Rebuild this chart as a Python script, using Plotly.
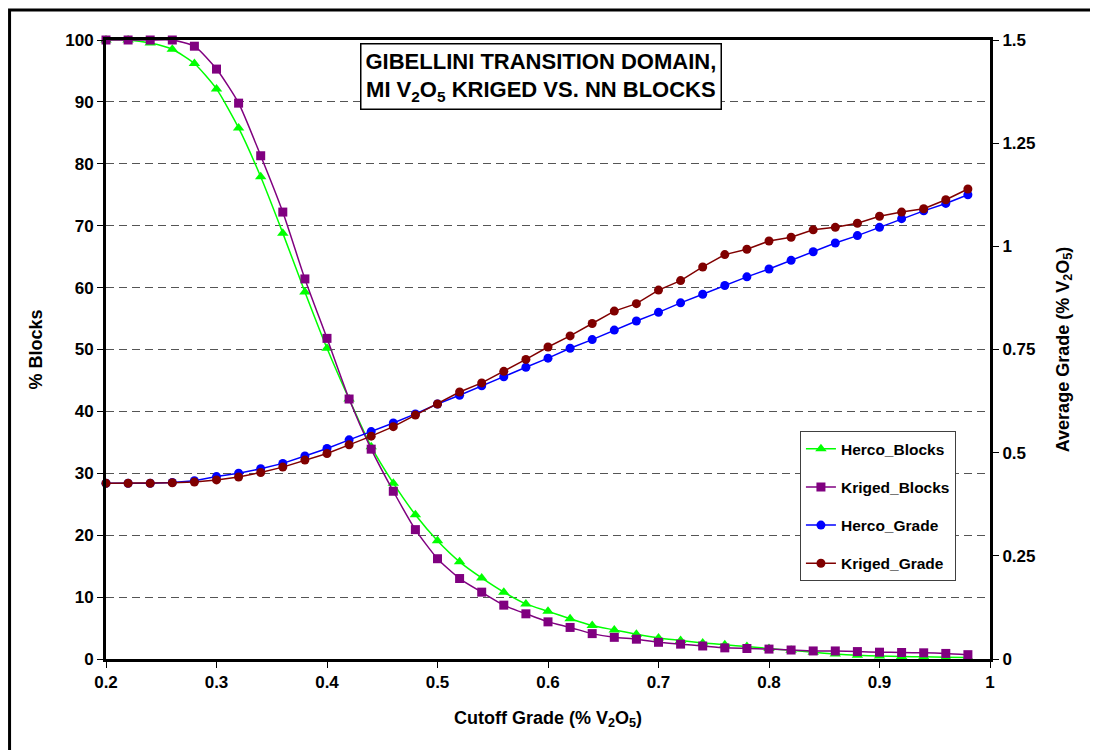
import plotly.graph_objects as go

cutoff = [round(0.20 + 0.02 * i, 2) for i in range(40)]

herco_blocks = [100, 100, 99.5, 98.5, 96.2, 92.1, 85.8, 77.9, 68.8, 59.3,
                50.2, 42.0, 34.3, 28.4, 23.3, 19.1, 15.7, 13.1, 10.8, 8.9,
                7.7, 6.5, 5.4, 4.7, 4.0, 3.4, 3.0, 2.6, 2.3, 2.0,
                1.7, 1.4, 1.1, 0.8, 0.6, 0.5, 0.4, 0.35, 0.3, 0.25]

kriged_blocks = [100, 100, 100, 100, 99.0, 95.3, 89.8, 81.3, 72.2, 61.4,
                 51.8, 42.0, 33.9, 27.1, 20.9, 16.2, 13.0, 10.8, 8.7, 7.3,
                 6.0, 5.1, 4.1, 3.5, 3.2, 2.7, 2.4, 2.1, 1.8, 1.7,
                 1.6, 1.45, 1.3, 1.3, 1.2, 1.1, 1.05, 1.0, 0.9, 0.7]

herco_grade = [0.426, 0.426, 0.426, 0.428, 0.432, 0.442, 0.450, 0.461, 0.474, 0.492,
               0.510, 0.531, 0.551, 0.572, 0.594, 0.618, 0.639, 0.662, 0.684, 0.707,
               0.729, 0.753, 0.774, 0.797, 0.819, 0.840, 0.863, 0.884, 0.905, 0.926,
               0.945, 0.966, 0.987, 1.008, 1.026, 1.046, 1.067, 1.086, 1.104, 1.125]

kriged_grade = [0.426, 0.426, 0.426, 0.427, 0.429, 0.434, 0.441, 0.452, 0.465, 0.482,
                0.498, 0.519, 0.540, 0.563, 0.591, 0.618, 0.647, 0.669, 0.697, 0.726,
                0.756, 0.783, 0.813, 0.843, 0.861, 0.894, 0.917, 0.950, 0.980, 0.993,
                1.013, 1.022, 1.040, 1.046, 1.056, 1.073, 1.083, 1.091, 1.113, 1.139]

x_ticks = [0.2, 0.3, 0.4, 0.5, 0.6, 0.7, 0.8, 0.9, 1.0]
x_tick_labels = ["0.2", "0.3", "0.4", "0.5", "0.6", "0.7", "0.8", "0.9", "1"]
y_ticks = [0, 10, 20, 30, 40, 50, 60, 70, 80, 90, 100]
y_tick_labels = ["0", "10", "20", "30", "40", "50", "60", "70", "80", "90", "100"]
y2_ticks = [0, 0.25, 0.5, 0.75, 1.0, 1.25, 1.5]
y2_tick_labels = ["0", "0.25", "0.5", "0.75", "1", "1.25", "1.5"]

FONT = "Liberation Sans, Arial, sans-serif"


def bold(size):
    return dict(family=FONT, size=size, color="black", weight="bold")


fig = go.Figure()
fig.add_trace(go.Scatter(
    x=cutoff, y=herco_blocks, name="Herco_Blocks", mode="lines+markers",
    line=dict(color="#00FF00", width=1.5, shape="spline", smoothing=0.6),
    marker=dict(symbol="triangle-up", size=10, color="#00FF00"),
    cliponaxis=False, legendgroup="a"))
fig.add_trace(go.Scatter(
    x=cutoff, y=kriged_blocks, name="Kriged_Blocks", mode="lines+markers",
    line=dict(color="#800080", width=1.5, shape="spline", smoothing=0.6),
    marker=dict(symbol="square", size=9, color="#800080"),
    cliponaxis=False, legendgroup="b"))
fig.add_trace(go.Scatter(
    x=cutoff, y=herco_grade, name="Herco_Grade", mode="lines+markers",
    line=dict(color="#0000FF", width=1.5),
    marker=dict(symbol="circle", size=9, color="#0000FF"),
    yaxis="y2", cliponaxis=False, legendgroup="c"))
fig.add_trace(go.Scatter(
    x=cutoff, y=kriged_grade, name="Kriged_Grade", mode="lines+markers",
    line=dict(color="#800000", width=1.5),
    marker=dict(symbol="circle", size=9, color="#800000"),
    yaxis="y2", cliponaxis=False, legendgroup="d"))

fig.update_layout(
    width=1090, height=742,
    margin=dict(l=98, r=108, t=32, b=91),
    paper_bgcolor="white", plot_bgcolor="white",
    font=bold(17),
    showlegend=True,
    legend=dict(
        x=0.785, y=0.368, xanchor="left", yanchor="top",
        bgcolor="white", bordercolor="#404040", borderwidth=1,
        font=bold(15.5),
        tracegroupgap=15, itemwidth=30,
    ),
    xaxis=dict(
        range=[0.2, 1.0], tickvals=x_ticks, ticktext=x_tick_labels,
        showgrid=False, zeroline=False,
        showline=True, linecolor="black", linewidth=3, mirror=True,
        ticks="outside", ticklen=6, tickcolor="black", tickwidth=1,
        tickfont=bold(17),
        title=dict(text="Cutoff Grade (% V<sub>2</sub>O<sub>5</sub>)",
                   font=bold(18), standoff=20),
    ),
    yaxis=dict(
        range=[0, 100], tickvals=y_ticks, ticktext=y_tick_labels,
        showgrid=True, gridcolor="#555555", gridwidth=1, griddash="8px,5px",
        zeroline=False,
        showline=True, linecolor="black", linewidth=3,
        ticks="outside", ticklen=6, tickcolor="black", tickwidth=1,
        tickfont=bold(17),
        title=dict(text="% Blocks", font=bold(18), standoff=18),
    ),
    yaxis2=dict(
        range=[0, 1.5], overlaying="y", side="right",
        tickvals=y2_ticks, ticktext=y2_tick_labels,
        showgrid=False, zeroline=False,
        showline=True, linecolor="black", linewidth=3,
        ticks="outside", ticklen=6, tickcolor="black", tickwidth=1,
        tickfont=bold(17),
        title=dict(text="Average Grade (% V<sub>2</sub>O<sub>5</sub>)",
                   font=bold(18), standoff=22),
    ),
    annotations=[dict(
        text="GIBELLINI TRANSITION DOMAIN,<br>MI V<sub>2</sub>O<sub>5</sub> KRIGED VS. NN BLOCKS",
        xref="paper", yref="paper", x=0.492, y=0.995, xanchor="center", yanchor="top",
        showarrow=False, align="center",
        font=bold(22),
        bgcolor="white", bordercolor="black", borderwidth=1.5, borderpad=4,
    )],
    shapes=[dict(
        type="rect", xref="paper", yref="paper",
        x0=-0.1091, x1=1.15, y0=-0.18, y1=1.0485,
        line=dict(color="black", width=3), fillcolor="rgba(0,0,0,0)", layer="above",
    )],
)

fig.write_html("out.html")
